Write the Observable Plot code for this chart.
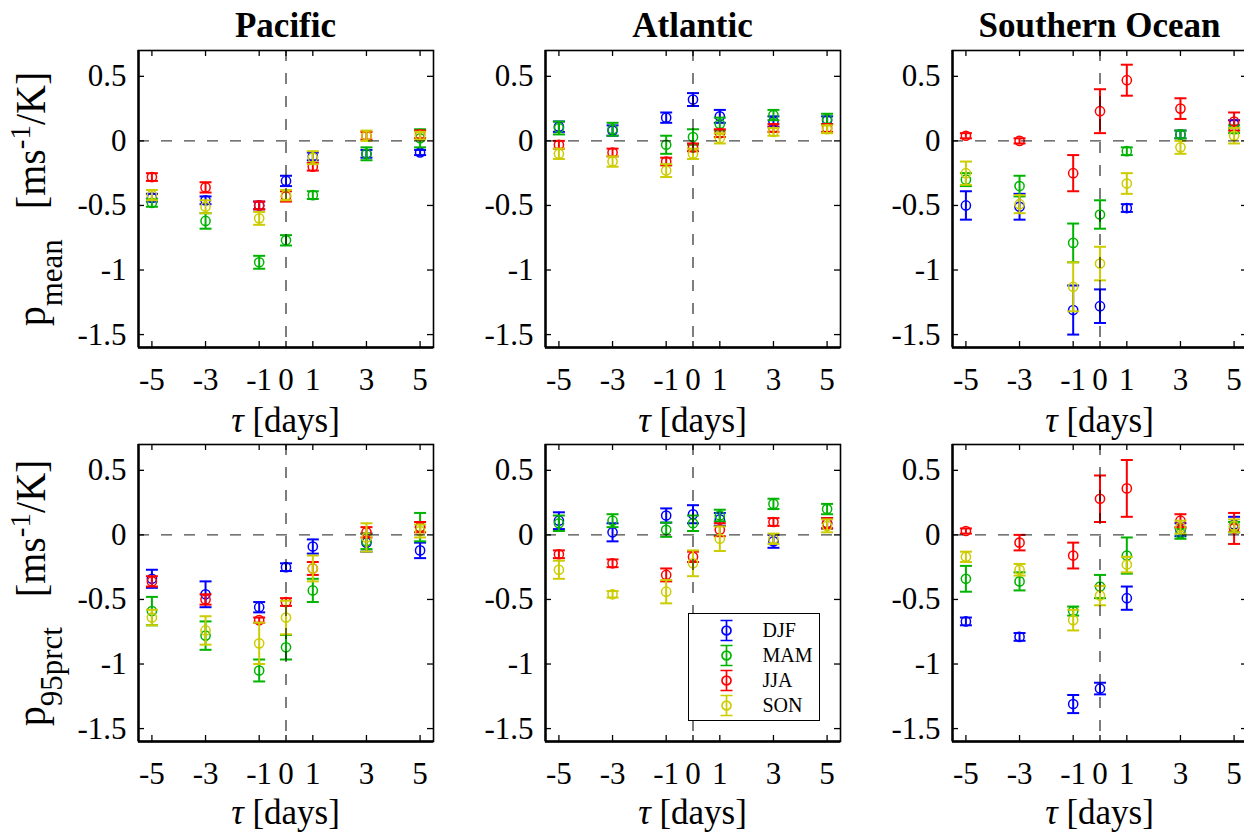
<!DOCTYPE html>
<html><head><meta charset="utf-8">
<script src="https://cdn.jsdelivr.net/npm/d3@7"></script>
<script src="https://cdn.jsdelivr.net/npm/@observablehq/plot@0.6"></script>
<style>
html,body{margin:0;padding:0;background:#fff;overflow:hidden;}
#chart{position:relative;width:1244px;height:832px;overflow:hidden;font-family:"Liberation Serif","Times New Roman",serif;color:#000;background:#fff;}
.abs{position:absolute;}
.title{font-weight:bold;font-size:35px;line-height:35px;text-align:center;white-space:nowrap;transform:translateX(-50%);}
.xlab{font-size:35px;line-height:35px;white-space:nowrap;transform:translateX(-50%);}
.ylab{font-size:40px;line-height:40px;white-space:nowrap;transform:translate(-50%,-50%) scale(1.05,1) rotate(-90deg);}
.ylab span{line-height:1;position:relative;}
</style></head><body><div id="chart"></div>
<script>
// ---------- data ----------
const seasons = ["DJF", "MAM", "JJA", "SON"];
const seasonColors = ["#0000ff", "#00b300", "#ff0000", "#cccc00"];
const tau = [-5, -3, -1, 0, 1, 3, 5];
const xTicks = [-5, -3, -1, 0, 1, 3, 5];
const yTicks = [-1.5, -1, -0.5, 0, 0.5];
const xDomain = [-5.5, 5.5];
const yDomain = [-1.6, 0.7];
const refLines = [0];
const regions = ["Pacific", "Atlantic", "Southern Ocean"];
const ySubs = ["mean", "95prct"];

// rows: DJF, MAM, JJA, SON ; columns: tau
const pacificMean = [
  [-0.44, -0.46, -0.50, -0.31, -0.12, -0.10, -0.09],
  [-0.48, -0.62, -0.94, -0.77, -0.42, -0.10, 0.02],
  [-0.28, -0.36, -0.50, -0.43, -0.20, 0.04, 0.05],
  [-0.42, -0.51, -0.60, -0.42, -0.13, 0.04, 0.04]];
const pacificMeanErr = [
  [0.03, 0.03, 0.03, 0.04, 0.03, 0.03, 0.02],
  [0.03, 0.06, 0.05, 0.04, 0.03, 0.05, 0.07],
  [0.03, 0.04, 0.03, 0.04, 0.03, 0.03, 0.03],
  [0.04, 0.05, 0.05, 0.04, 0.05, 0.04, 0.03]];
const atlanticMean = [
  [0.11, 0.08, 0.18, 0.32, 0.19, 0.15, 0.16],
  [0.10, 0.09, -0.03, 0.03, 0.13, 0.20, 0.17],
  [-0.03, -0.09, -0.16, -0.05, 0.06, 0.10, 0.10],
  [-0.10, -0.16, -0.23, -0.10, 0.02, 0.07, 0.09]];
const atlanticMeanErr = [
  [0.04, 0.04, 0.04, 0.05, 0.05, 0.04, 0.03],
  [0.05, 0.05, 0.07, 0.06, 0.05, 0.04, 0.04],
  [0.03, 0.03, 0.03, 0.03, 0.03, 0.03, 0.03],
  [0.04, 0.04, 0.05, 0.04, 0.04, 0.03, 0.03]];
const southernMean = [
  [-0.50, -0.51, -1.31, -1.28, -0.52, 0.05, 0.13],
  [-0.30, -0.35, -0.79, -0.57, -0.08, 0.05, 0.09],
  [0.04, 0.00, -0.25, 0.23, 0.47, 0.25, 0.15],
  [-0.25, -0.49, -1.13, -0.95, -0.33, -0.05, 0.04]];
const southernMeanErr = [
  [0.11, 0.10, 0.19, 0.13, 0.03, 0.03, 0.03],
  [0.05, 0.08, 0.15, 0.11, 0.03, 0.03, 0.03],
  [0.02, 0.02, 0.14, 0.17, 0.12, 0.08, 0.07],
  [0.09, 0.07, 0.19, 0.13, 0.08, 0.05, 0.06]];
const pacific95 = [
  [-0.34, -0.46, -0.56, -0.25, -0.09, -0.06, -0.12],
  [-0.59, -0.78, -1.05, -0.87, -0.43, -0.05, 0.06],
  [-0.36, -0.50, -0.66, -0.52, -0.26, 0.02, 0.06],
  [-0.64, -0.74, -0.84, -0.64, -0.26, -0.02, 0.03]];
const pacific95Err = [
  [0.07, 0.10, 0.04, 0.03, 0.055, 0.07, 0.06],
  [0.11, 0.11, 0.085, 0.095, 0.09, 0.06, 0.11],
  [0.04, 0.04, 0.02, 0.03, 0.05, 0.04, 0.04],
  [0.06, 0.11, 0.16, 0.13, 0.10, 0.11, 0.05]];
const atlantic95 = [
  [0.11, 0.02, 0.15, 0.16, 0.12, -0.05, 0.09],
  [0.09, 0.11, 0.04, 0.09, 0.15, 0.24, 0.20],
  [-0.15, -0.22, -0.31, -0.17, 0.04, 0.10, 0.09],
  [-0.27, -0.46, -0.44, -0.22, -0.03, -0.03, 0.07]];
const atlantic95Err = [
  [0.065, 0.07, 0.055, 0.07, 0.05, 0.05, 0.04],
  [0.06, 0.05, 0.055, 0.06, 0.045, 0.04, 0.04],
  [0.03, 0.03, 0.05, 0.04, 0.05, 0.03, 0.04],
  [0.07, 0.025, 0.09, 0.10, 0.095, 0.04, 0.05]];
const southern95 = [
  [-0.67, -0.79, -1.31, -1.19, -0.49, 0.04, 0.08],
  [-0.34, -0.36, -0.59, -0.40, -0.16, 0.01, 0.06],
  [0.03, -0.06, -0.16, 0.28, 0.36, 0.11, 0.05],
  [-0.17, -0.27, -0.66, -0.47, -0.23, 0.06, 0.07]];
const southern95Err = [
  [0.03, 0.03, 0.07, 0.045, 0.09, 0.05, 0.06],
  [0.10, 0.07, 0.035, 0.09, 0.14, 0.04, 0.04],
  [0.02, 0.06, 0.10, 0.18, 0.22, 0.05, 0.12],
  [0.04, 0.045, 0.08, 0.075, 0.06, 0.05, 0.05]];

const panels = [
  {row: 0, col: 0, values: pacificMean, errors: pacificMeanErr},
  {row: 0, col: 1, values: atlanticMean, errors: atlanticMeanErr},
  {row: 0, col: 2, values: southernMean, errors: southernMeanErr},
  {row: 1, col: 0, values: pacific95, errors: pacific95Err},
  {row: 1, col: 1, values: atlantic95, errors: atlantic95Err},
  {row: 1, col: 2, values: southern95, errors: southern95Err}
];

// ---------- layout ----------
const FW = 295, FH = 297;           // frame size
const ML = 70, MR = 6, MT = 6, MB = 48;
const colLeft = [138, 545, 952];
const rowTop = [50, 444];
const TICK = 6;

const capSymbol = {draw(ctx, size) { const w = Math.sqrt(size / Math.PI); ctx.moveTo(-w, 0); ctx.lineTo(w, 0); }};
const legendSymbol = {draw(ctx, size) {
  const r = 4.5, h = 10, w = 6;
  ctx.moveTo(0, -h); ctx.lineTo(0, h);
  ctx.moveTo(-w, -h); ctx.lineTo(w, -h);
  ctx.moveTo(-w, h); ctx.lineTo(w, h);
  ctx.moveTo(r, 0); ctx.arc(0, 0, r, 0, 2 * Math.PI);
}};

const chart = document.getElementById("chart");
const fmt = d => String(d);
const serif = "'Liberation Serif', 'Times New Roman', serif";

function panel(p) {
  const marks = [];
  seasons.forEach((s, i) => {
    const rows = tau.map((t, j) => ({season: s, tau: t, v: p.values[i][j], e: p.errors[i][j]}));
    marks.push(
      Plot.ruleX(rows, {x: "tau", y1: d => d.v - d.e, y2: d => d.v + d.e, stroke: "season", strokeWidth: 2}),
      Plot.dot(rows, {x: "tau", y: d => d.v - d.e, symbol: capSymbol, r: 6, fill: "none", stroke: "season", strokeWidth: 2}),
      Plot.dot(rows, {x: "tau", y: d => d.v + d.e, symbol: capSymbol, r: 6, fill: "none", stroke: "season", strokeWidth: 2}),
      Plot.dot(rows, {x: "tau", y: "v", r: 4.6, fill: "none", stroke: "season", strokeWidth: 1.5})
    );
  });
  return Plot.plot({
    width: FW + ML + MR, height: FH + MT + MB,
    marginLeft: ML, marginRight: MR, marginTop: MT, marginBottom: MB,
    style: {fontFamily: serif, fontSize: "31px", background: "transparent", color: "#000", overflow: "visible"},
    x: {domain: xDomain, ticks: xTicks, tickSize: 0, tickPadding: 20, tickFormat: fmt, label: null},
    y: {domain: yDomain, ticks: yTicks, tickSize: 0, tickPadding: 12, tickFormat: fmt, label: null},
    color: {domain: seasons, range: seasonColors},
    marks: [
      ...marks,
      Plot.ruleY(refLines, {stroke: "#000", strokeOpacity: 0.72, strokeWidth: 1.4, strokeDasharray: "11,12"}),
      Plot.ruleX(refLines, {stroke: "#000", strokeOpacity: 0.72, strokeWidth: 1.4, strokeDasharray: "11,12"}),
      Plot.tickX(xTicks, {x: d => d, insetTop: FH - TICK, stroke: "#000", strokeWidth: 1.3}),
      Plot.tickX(xTicks, {x: d => d, insetBottom: FH - TICK, stroke: "#000", strokeWidth: 1.3}),
      Plot.tickY(yTicks, {y: d => d, insetRight: FW - TICK, stroke: "#000", strokeWidth: 1.3}),
      Plot.tickY(yTicks, {y: d => d, insetLeft: FW - TICK, stroke: "#000", strokeWidth: 1.3}),
      Plot.frame({stroke: "#000", strokeWidth: 1.6}),
      Plot.ruleX([xDomain[0]], {stroke: "#000", strokeWidth: 2.4}),
      Plot.ruleY([yDomain[0]], {stroke: "#000", strokeWidth: 2.4})
    ]
  });
}

panels.forEach(p => {
  const svg = panel(p);
  svg.style.position = "absolute";
  svg.style.left = (colLeft[p.col] - ML) + "px";
  svg.style.top = (rowTop[p.row] - MT) + "px";
  chart.appendChild(svg);
});

// titles
regions.forEach((r, c) => {
  const d = document.createElement("div");
  d.className = "abs title";
  d.style.left = (colLeft[c] + FW / 2) + "px";
  d.style.top = "8px";
  d.textContent = r;
  chart.appendChild(d);
});

// x labels
[0, 1].forEach(row => {
  [0, 1, 2].forEach(c => {
    const d = document.createElement("div");
    d.className = "abs xlab";
    d.style.left = (colLeft[c] + FW / 2) + "px";
    d.style.top = (row === 0 ? 403 : 795) + "px";
    d.innerHTML = '<i>τ</i> [days]';
    chart.appendChild(d);
  });
});

// y labels
[0, 1].forEach(row => {
  const d = document.createElement("div");
  d.className = "abs ylab";
  d.style.left = "31px";
  d.style.top = (rowTop[row] + FH / 2) + "px";
  d.innerHTML = 'p<span style="font-size:31px;top:17px">' + ySubs[row] + '</span>&nbsp;&nbsp;&nbsp;[ms<span style="font-size:29px;top:-14px">-1</span>/K]';
  chart.appendChild(d);
});

// legend
const legend = Plot.plot({
  width: 131, height: 107,
  marginLeft: 0, marginRight: 0, marginTop: 17, marginBottom: 15,
  style: {fontFamily: serif, fontSize: "20px", background: "transparent", color: "#000", overflow: "visible"},
  x: {axis: null},
  y: {type: "point", domain: seasons, padding: 0, axis: null},
  color: {domain: seasons, range: seasonColors},
  marks: [
    Plot.frame({fill: "#fff", stroke: "#000", strokeWidth: 1, insetTop: -17, insetBottom: -15}),
    Plot.dot(seasons, {y: d => d, frameAnchor: "left", dx: 38, symbol: legendSymbol, r: 5, fill: "none", stroke: d => d, strokeWidth: 1.7}),
    Plot.text(seasons, {y: d => d, text: d => d, frameAnchor: "left", textAnchor: "start", dx: 74, fill: "#000"})
  ]
});
legend.style.position = "absolute";
legend.style.left = "688px";
legend.style.top = "613px";
chart.appendChild(legend);
</script></body></html>
